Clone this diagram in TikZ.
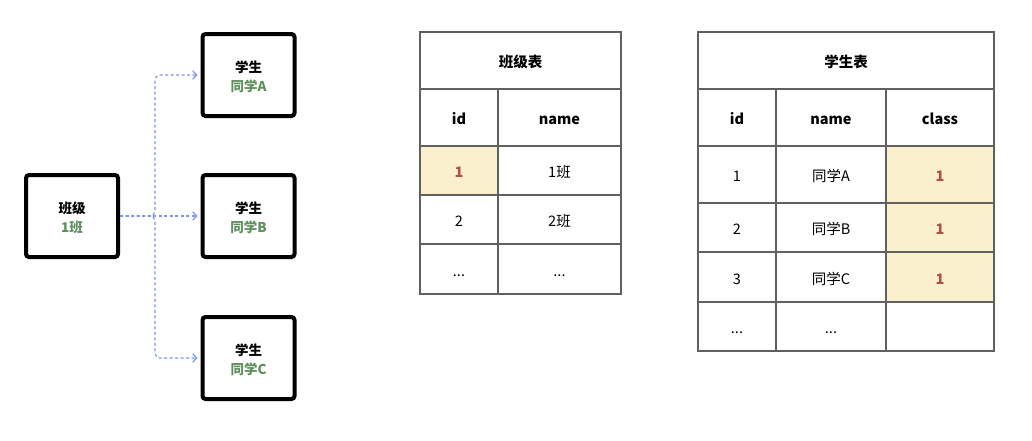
\documentclass[tikz,border=0pt]{standalone}
\usepackage{fontspec}
\setmainfont{Noto Sans CJK SC}
\usepackage{xcolor}
\usetikzlibrary{arrows.meta, positioning, calc}
\definecolor{keyfill}{HTML}{FAF0CE}
\definecolor{keyred}{HTML}{B0504A}
\definecolor{namegreen}{HTML}{5E8F5C}
\definecolor{gridgray}{HTML}{606060}
\definecolor{linkblue}{HTML}{7D95F2}

\begin{document}
\begin{tikzpicture}[
    x=1pt, y=-1pt,
    entity/.style={rectangle, draw=black, line width=4pt, rounded corners=3pt, minimum width=92pt, minimum height=82pt, align=center, inner sep=0pt, font=\fontsize{13.5}{19}\selectfont\bfseries},
    cell/.style={rectangle, draw=gridgray, line width=1.1pt, anchor=north west, inner sep=0pt, outer sep=0pt, text height=14pt, text depth=0pt, font=\fontsize{14.5}{18}\selectfont},
    headcell/.style={cell, font=\fontsize{14.5}{18}\selectfont\bfseries},
    keycell/.style={cell, fill=keyfill, text=keyred, font=\fontsize{14.5}{18}\selectfont\bfseries},
    link/.style={-{Straight Barb[length=4pt, width=8.5pt]}, draw=linkblue, line width=1.2pt, dash pattern=on 3pt off 2.5pt}
]
    \useasboundingbox (0,0) rectangle (1032,440);

    % --- Class and Students ---
    \node[entity] (cls) at (72,216) {\rule{0pt}{15pt}班级\\\textcolor{namegreen}{1班}};
    \node[entity] (stuA) at (248.5,75) {\rule{0pt}{15pt}学生\\\textcolor{namegreen}{同学A}};
    \node[entity] (stuB) at (248.5,216) {\rule{0pt}{15pt}学生\\\textcolor{namegreen}{同学B}};
    \node[entity] (stuC) at (248.5,358) {\rule{0pt}{15pt}学生\\\textcolor{namegreen}{同学C}};

    % --- Links ---
    \coordinate (hub) at (155,216);
    \draw[link, rounded corners=5pt] (cls.east) -- (hub) |- ($(stuA.west)+(-3,0)$);
    \draw[link] (cls.east) -- ($(stuB.west)+(-3,0)$);
    \draw[link, rounded corners=5pt] (cls.east) -- (hub) |- ($(stuC.west)+(-3,0)$);

    % --- Class Table ---
    \node[headcell, minimum width=201pt, minimum height=57pt] (ct_title) at (420,32) {班级表};
    \node[headcell, minimum width=78pt, minimum height=57pt] (ct_id) at (420,89) {id};
    \node[headcell, minimum width=123pt, minimum height=57pt] (ct_name) at (498,89) {name};
    \node[keycell, minimum width=78pt, minimum height=49pt] (ct_id1) at (420,146) {1};
    \node[cell, minimum width=123pt, minimum height=49pt] (ct_name1) at (498,146) {1班};
    \node[cell, minimum width=78pt, minimum height=49pt] (ct_id2) at (420,195) {2};
    \node[cell, minimum width=123pt, minimum height=49pt] (ct_name2) at (498,195) {2班};
    \node[cell, minimum width=78pt, minimum height=50pt] (ct_id3) at (420,244) {...};
    \node[cell, minimum width=123pt, minimum height=50pt] (ct_name3) at (498,244) {...};

    % --- Student Table ---
    \node[headcell, minimum width=296pt, minimum height=57pt] (st_title) at (698,32) {学生表};
    \node[headcell, minimum width=78pt, minimum height=57pt] (st_id) at (698,89) {id};
    \node[headcell, minimum width=110pt, minimum height=57pt] (st_name) at (776,89) {name};
    \node[headcell, minimum width=108pt, minimum height=57pt] (st_class) at (886,89) {class};
    \foreach \y/\h/\i/\n [count=\r] in {146/57/1/同学A, 203/49/2/同学B, 252/50/3/同学C} {
        \node[cell, minimum width=78pt, minimum height=\h pt] (st_id\r) at (698,\y) {\i};
        \node[cell, minimum width=110pt, minimum height=\h pt] (st_name\r) at (776,\y) {\n};
        \node[keycell, minimum width=108pt, minimum height=\h pt] (st_class\r) at (886,\y) {1};
    }
    \node[cell, minimum width=78pt, minimum height=49pt] (st_id4) at (698,302) {...};
    \node[cell, minimum width=110pt, minimum height=49pt] (st_name4) at (776,302) {...};
    \node[cell, minimum width=108pt, minimum height=49pt] (st_class4) at (886,302) {};

\end{tikzpicture}
\end{document}
